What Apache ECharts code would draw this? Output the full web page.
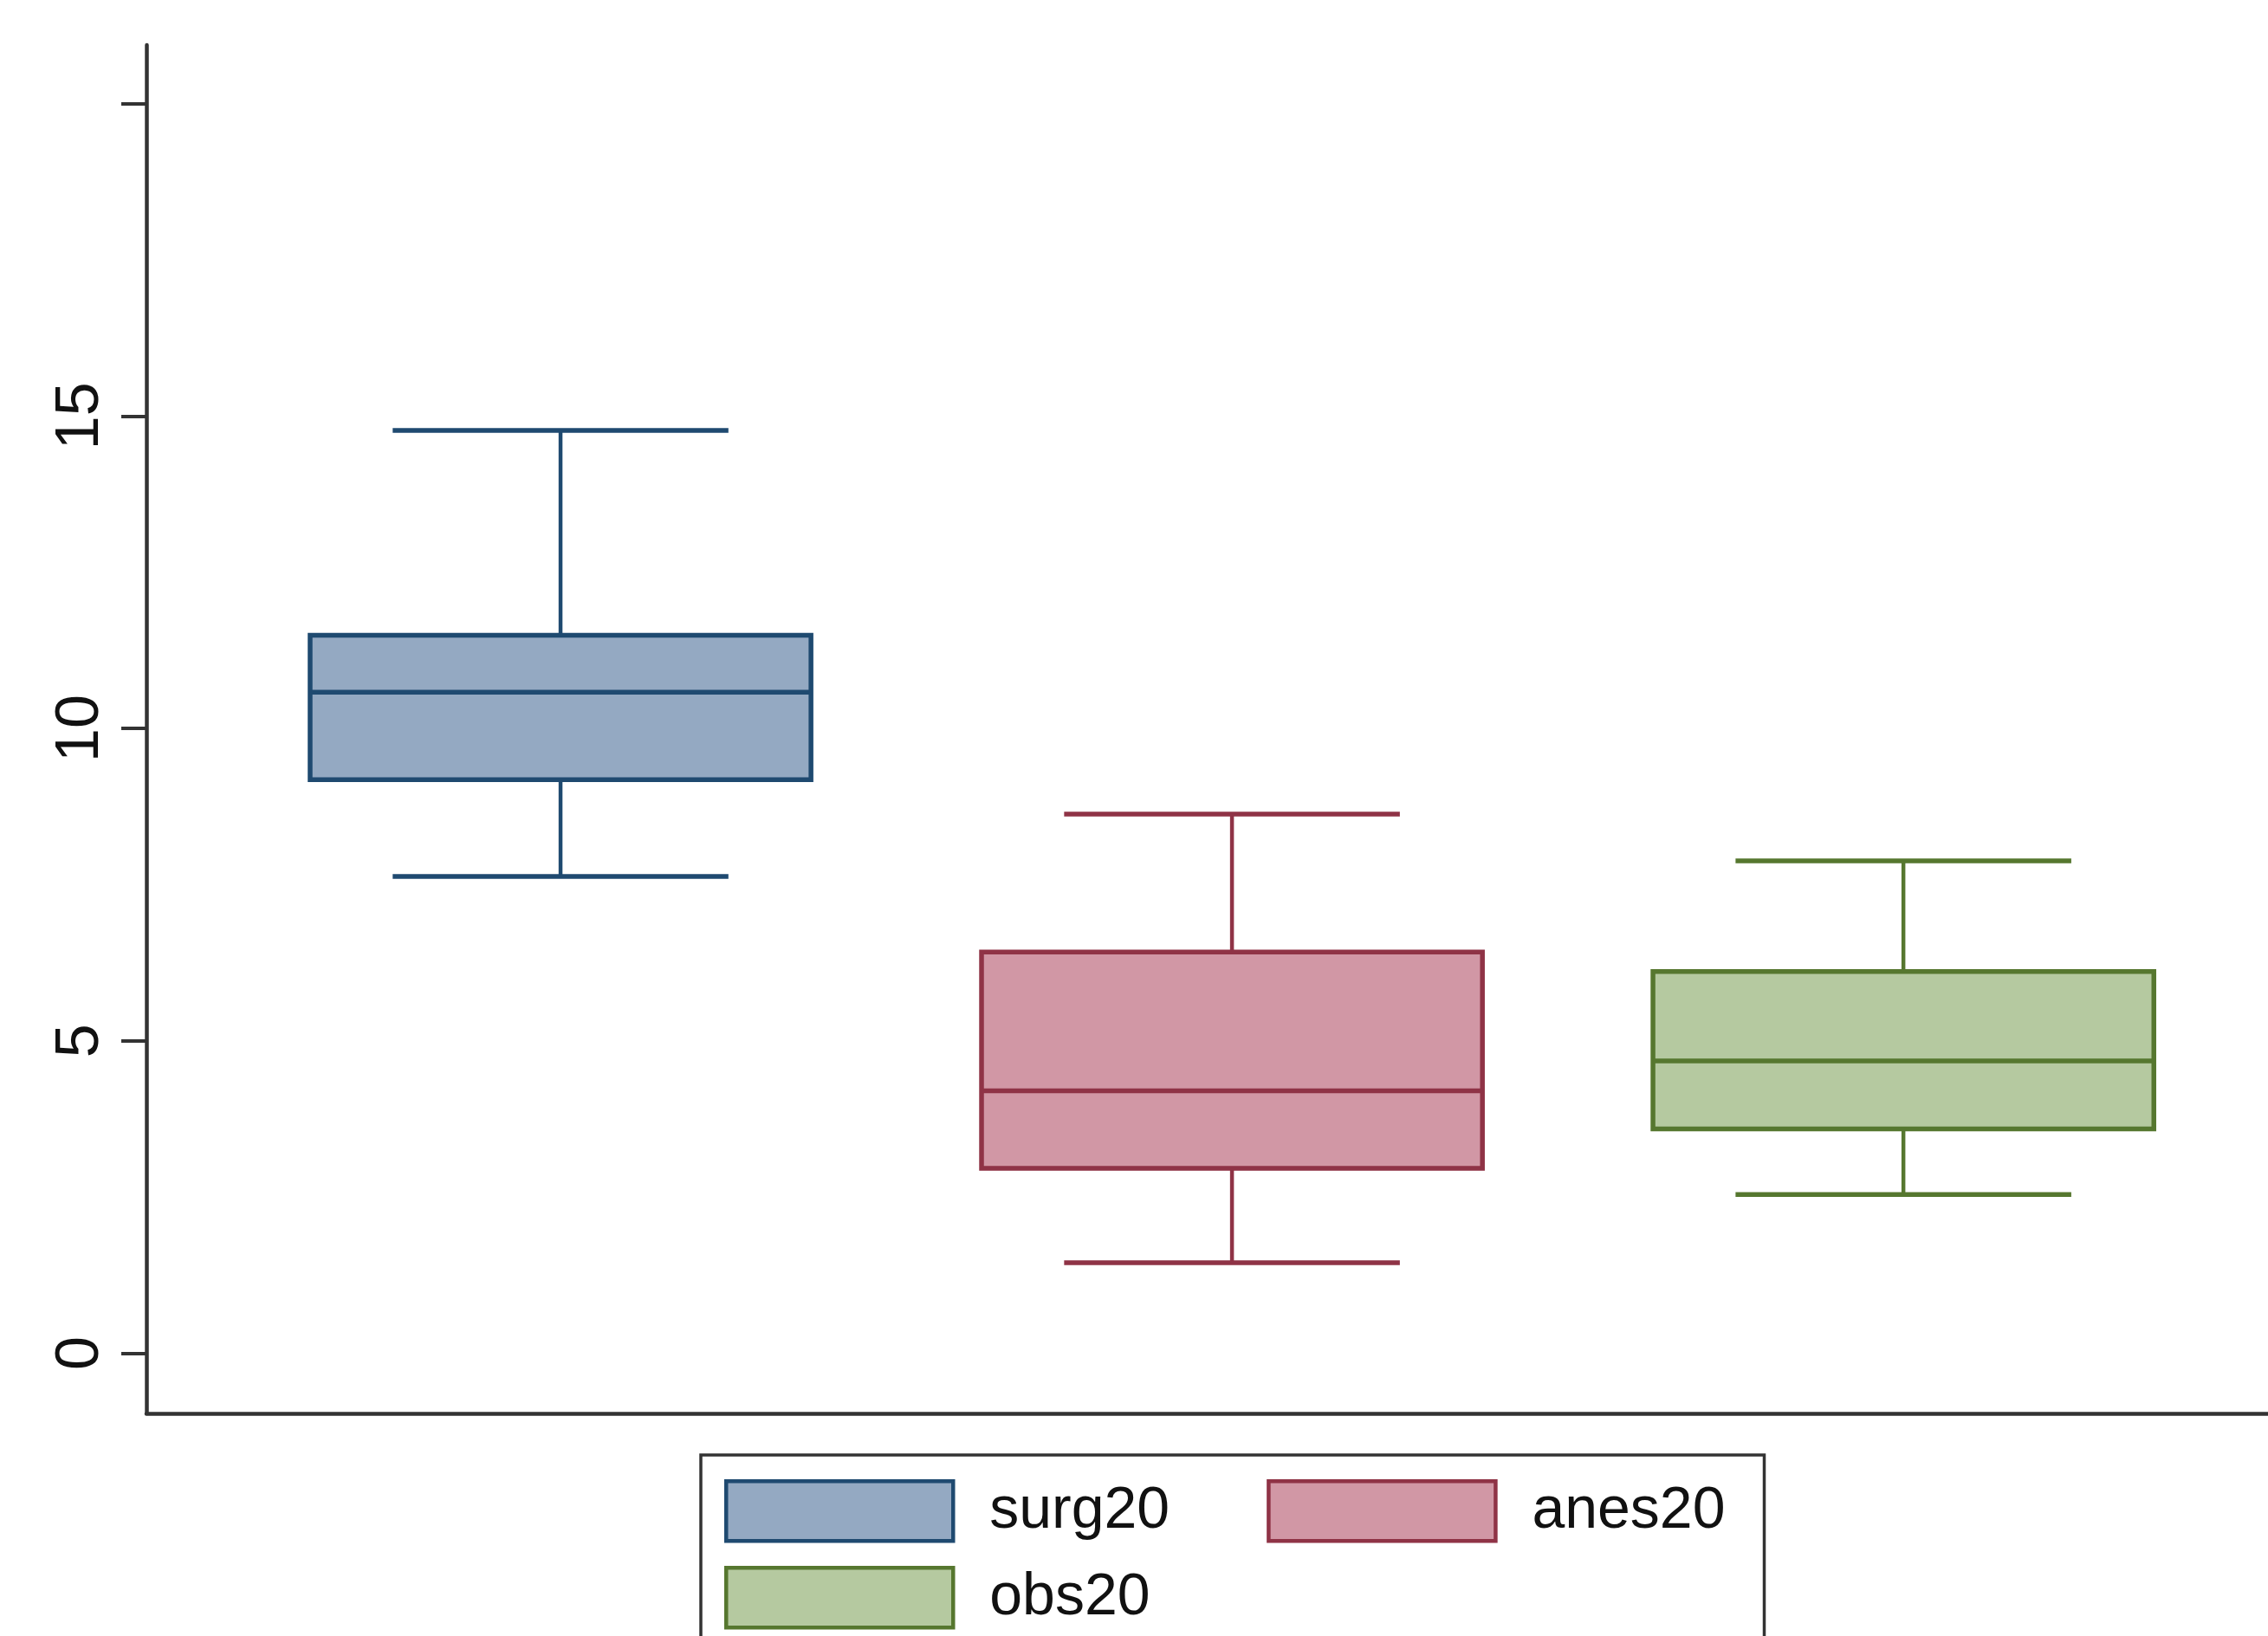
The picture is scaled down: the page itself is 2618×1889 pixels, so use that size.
<!DOCTYPE html>
<html>
<head>
<meta charset="utf-8">
<script src="https://cdn.jsdelivr.net/npm/echarts@6/dist/echarts.min.js"></script>
<style>
html,body{margin:0;padding:0;background:#fff;}
#chart{width:2618px;height:1889px;}
</style>
</head>
<body>
<div id="chart"></div>
<script>
// ---- data ----
const categories = ['surg20', 'anes20', 'obs20'];
const lowWhisker  = [7.63, 1.45, 2.54];
const q1Values    = [9.18, 2.96, 3.59];
const medians     = [10.58, 4.20, 4.68];
const q3Values    = [11.49, 6.42, 6.11];
const highWhisker = [14.77, 8.63, 7.88];
const yTickValues  = [0, 5, 10, 15, 20];
const yLabelValues = [0, 5, 10, 15];

// ---- styles ----
const fills   = ['#94a9c2', '#d197a5', '#b5c9a0'];
const strokes = ['#1f4a70', '#8f3346', '#56772f'];
const BOX_W = 0.746;   // in x-axis units
const CAP_W = 0.50;
const FONT = 'Liberation Sans, Arial, sans-serif';

function renderItem(params, api) {
  const x = api.value(0);
  const lo = api.coord([x, api.value(1)]);
  const q1 = api.coord([x, api.value(2)]);
  const md = api.coord([x, api.value(3)]);
  const q3 = api.coord([x, api.value(4)]);
  const hi = api.coord([x, api.value(5)]);
  const bw = api.size([BOX_W, 0])[0];
  const cw = api.size([CAP_W, 0])[0];
  const cx = lo[0];
  const i = params.seriesIndex;
  const wl = {stroke: strokes[i], lineWidth: 4.5};
  const cl = {stroke: strokes[i], lineWidth: 5.5};
  return {
    type: 'group',
    children: [
      {type: 'line', shape: {x1: cx, y1: q3[1], x2: cx, y2: hi[1]}, style: wl},
      {type: 'line', shape: {x1: cx, y1: q1[1], x2: cx, y2: lo[1]}, style: wl},
      {type: 'line', shape: {x1: cx - cw/2, y1: hi[1], x2: cx + cw/2, y2: hi[1]}, style: cl},
      {type: 'line', shape: {x1: cx - cw/2, y1: lo[1], x2: cx + cw/2, y2: lo[1]}, style: cl},
      {type: 'rect', shape: {x: cx - bw/2, y: q3[1], width: bw, height: q1[1] - q3[1]},
       style: {fill: fills[i], stroke: strokes[i], lineWidth: 5.5}},
      {type: 'line', shape: {x1: cx - bw/2, y1: md[1], x2: cx + bw/2, y2: md[1]}, style: {stroke: strokes[i], lineWidth: 5.5}}
    ]
  };
}

const series = categories.map(function (name, i) {
  return {
    name: name,
    type: 'custom',
    renderItem: renderItem,
    itemStyle: {color: fills[i], borderColor: strokes[i]},
    encode: {x: 0, y: [1, 2, 3, 4, 5]},
    data: [[i + 1, lowWhisker[i], q1Values[i], medians[i], q3Values[i], highWhisker[i]]],
    animation: false
  };
});

function legendItem(i) {
  return {name: categories[i], itemStyle: {color: fills[i], borderColor: strokes[i], borderWidth: 4.5}};
}
const legendCommon = {
  orient: 'horizontal',
  itemWidth: 262,
  itemHeight: 69,
  icon: 'rect',
  textStyle: {fontFamily: FONT, fontSize: 68, color: '#111111', padding: [10, 0, 0, 37]}
};

const chart = echarts.init(document.getElementById('chart'));
chart.setOption({
  backgroundColor: '#ffffff',
  animation: false,
  grid: {left: 169, top: 52, right: 0, bottom: 257, containLabel: false},
  xAxis: {
    type: 'value',
    min: 0.3832,
    max: 3.543,
    axisLine: {show: true, onZero: false, lineStyle: {color: '#333333', width: 4.5}},
    axisTick: {show: false},
    axisLabel: {show: false},
    splitLine: {show: false}
  },
  yAxis: {
    type: 'value',
    min: -0.962,
    max: 20.936,
    axisLine: {show: true, onZero: false, lineStyle: {color: '#333333', width: 4.5}},
    axisTick: {show: true, length: 29, customValues: yTickValues, lineStyle: {color: '#333333', width: 4}},
    axisLabel: {
      show: true, rotate: 90, margin: 40, customValues: yLabelValues,
      fontFamily: FONT, fontSize: 70, color: '#111111'
    },
    splitLine: {show: false}
  },
  legend: [
    Object.assign({}, legendCommon, {
      left: 809,
      top: 1680,
      padding: [28, 45, 150, 27],
      itemGap: 112,
      borderColor: '#333333',
      borderWidth: 3.5,
      data: [legendItem(0), legendItem(1)]
    }),
    Object.assign({}, legendCommon, {
      left: 809,
      top: 1780,
      padding: [28, 0, 0, 27],
      data: [legendItem(2)]
    })
  ],
  series: series
});
</script>
</body>
</html>
